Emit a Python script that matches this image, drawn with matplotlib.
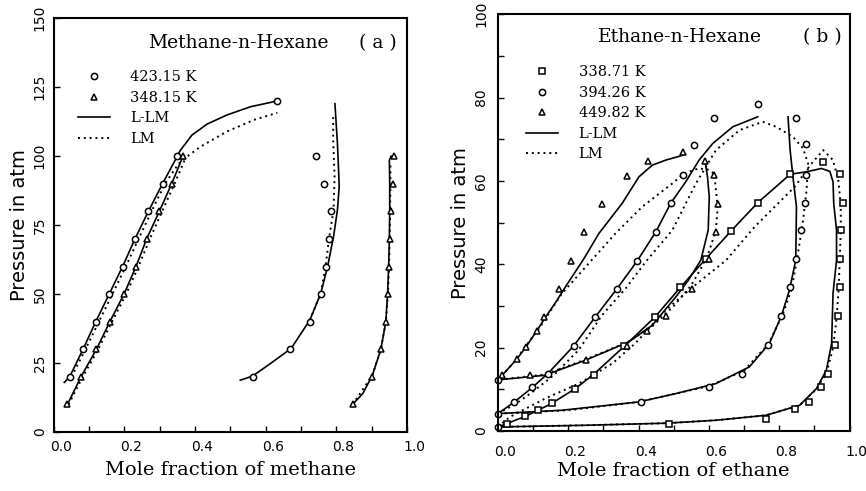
import numpy as np
import matplotlib.pyplot as plt
from matplotlib.lines import Line2D
from matplotlib.transforms import ScaledTranslation

# ---- (a) methane - n-hexane ----
# 423.15 K data (liquid / vapour side)
a423_liq_x = [0.045, 0.083, 0.119, 0.157, 0.195, 0.230, 0.268, 0.308, 0.350, 0.633]
a423_liq_p = [20, 30, 40, 50, 60, 70, 80, 90, 100, 120]
a423_vap_x = [0.563, 0.670, 0.725, 0.756, 0.770, 0.780, 0.784, 0.765, 0.741]
a423_vap_p = [20, 30, 40, 50, 60, 70, 80, 90, 100]
# 348.15 K data
a348_liq_x = [0.039, 0.077, 0.121, 0.159, 0.199, 0.233, 0.263, 0.299, 0.334, 0.366]
a348_liq_p = [10, 20, 30, 40, 50, 60, 70, 80, 90, 100]
a348_vap_x = [0.846, 0.902, 0.926, 0.940, 0.945, 0.948, 0.953, 0.956, 0.960, 0.964]
a348_vap_p = [10, 20, 30, 40, 50, 60, 70, 80, 90, 100]

# L-LM curves
a423_liq_llm_x = [0.030, 0.045, 0.083, 0.119, 0.157, 0.195, 0.230, 0.268, 0.308, 0.350, 0.358, 0.391, 0.434, 0.490, 0.557, 0.633]
a423_liq_llm_p = [18, 20, 30, 40, 50, 60, 70, 80, 90, 100, 102, 107.6, 111.6, 114.9, 117.9, 120]
a423_vap_llm_x = [0.528, 0.563, 0.614, 0.672, 0.725, 0.756, 0.775, 0.792, 0.803, 0.808, 0.806, 0.803, 0.796]
a423_vap_llm_p = [18.8, 20.3, 24.9, 30.3, 40.6, 50.3, 59.9, 70.8, 80.4, 88.9, 96, 104.6, 119]
a348_liq_llm_x = [0.039, 0.077, 0.121, 0.159, 0.199, 0.233, 0.263, 0.299, 0.334, 0.366]
a348_liq_llm_p = [10, 20, 30, 40, 50, 60, 70, 80, 90, 100]
a348_vap_llm_x = [0.846, 0.875, 0.902, 0.926, 0.940, 0.945, 0.948, 0.950, 0.951, 0.951, 0.950, 0.955, 0.964]
a348_vap_llm_p = [10, 14, 20.6, 30, 40, 50, 60, 70, 80, 90, 98.5, 100, 100]
# LM curves
a423_liq_lm_x = [0.050, 0.090, 0.128, 0.166, 0.204, 0.240, 0.277, 0.315, 0.352, 0.364, 0.415, 0.490, 0.566, 0.633]
a423_liq_lm_p = [20, 30, 40, 50, 60, 70, 80, 90, 97, 98.6, 103.4, 108.9, 113.1, 115.7]
a348_liq_lm_x = [0.042, 0.082, 0.126, 0.165, 0.205, 0.240, 0.272, 0.307, 0.342, 0.372]
a348_liq_lm_p = [10, 20, 30, 40, 50, 60, 70, 80, 90, 99]
a423_vap_lm_x = [0.725, 0.756, 0.770, 0.779, 0.792, 0.795, 0.791, 0.791]
a423_vap_lm_p = [40.6, 50.3, 60.5, 70, 80.4, 92.5, 105.8, 115]
a348_vap_lm_x = [0.846, 0.902, 0.926, 0.940, 0.946, 0.949, 0.951, 0.952, 0.953, 0.953]
a348_vap_lm_p = [10, 20.6, 30, 40, 50, 60, 70, 80, 90, 98]

# ---- (b) ethane - n-hexane ----
b338_bub_x = [0.025, 0.077, 0.115, 0.153, 0.220, 0.272, 0.358, 0.447, 0.517, 0.591, 0.663, 0.739, 0.831, 0.925]
b338_bub_p = [1.8, 3.6, 5.0, 6.8, 10.2, 13.4, 20.4, 27.4, 34.5, 41.2, 48.0, 54.8, 61.6, 64.6]
b338_dew_x = [0.487, 0.761, 0.844, 0.885, 0.920, 0.939, 0.958, 0.968, 0.972, 0.972, 0.977, 0.980, 0.974]
b338_dew_p = [1.8, 3.0, 5.4, 7.0, 10.6, 13.8, 20.6, 27.6, 34.5, 41.2, 48.2, 54.8, 61.6]
b394_bub_x = [0.047, 0.098, 0.142, 0.215, 0.277, 0.339, 0.396, 0.449, 0.491, 0.525, 0.558, 0.615, 0.739]
b394_bub_p = [7.0, 10.5, 13.8, 20.4, 27.4, 34.2, 40.8, 47.8, 54.6, 61.4, 68.6, 75.2, 78.4]
b394_dew_x = [0.407, 0.601, 0.694, 0.768, 0.806, 0.831, 0.847, 0.863, 0.872, 0.877, 0.875, 0.847]
b394_dew_p = [7.0, 10.6, 13.8, 20.6, 27.6, 34.5, 41.2, 48.2, 54.8, 61.4, 68.8, 75.2]
b449_bub_x = [0.012, 0.053, 0.079, 0.110, 0.132, 0.174, 0.209, 0.244, 0.296, 0.368, 0.428, 0.527]
b449_bub_p = [13.4, 17.2, 20.1, 24.0, 27.3, 34.0, 40.8, 47.8, 54.4, 61.2, 64.8, 67.0]
b449_dew_x = [0.091, 0.250, 0.368, 0.425, 0.477, 0.553, 0.599, 0.620, 0.625, 0.615, 0.589]
b449_dew_p = [13.4, 17.0, 20.4, 24.0, 27.6, 34.0, 41.2, 47.8, 54.4, 61.4, 64.8]
b_pure_x = [0.0, 0.0, 0.0]
b_pure_p = [1.0, 4.2, 12.3]

# L-LM curves
b338_llm_x = [0.0, 0.025, 0.077, 0.150, 0.220, 0.272, 0.360, 0.447, 0.517, 0.591, 0.663, 0.739, 0.831, 0.877, 0.920,
              0.944, 0.953, 0.955, 0.963, 0.963, 0.953, 0.949, 0.934, 0.906, 0.858, 0.763, 0.620, 0.480, 0.250, 0.0]
b338_llm_p = [1.0, 1.8, 3.5, 6.5, 10.2, 13.6, 20.4, 27.4, 34.3, 41.3, 48.0, 54.8, 61.6, 62.2, 63.0,
              62.3, 59.8, 54.6, 48.2, 41.0, 33.0, 21.0, 14.6, 10.2, 6.2, 3.8, 2.6, 1.9, 1.4, 1.0]
b394_bub_llm_x = [0.0, 0.047, 0.098, 0.142, 0.215, 0.277, 0.339, 0.396, 0.449, 0.491, 0.534, 0.572, 0.611, 0.668, 0.739]
b394_bub_llm_p = [4.2, 7.0, 10.5, 13.8, 20.4, 27.4, 34.2, 40.8, 47.8, 54.6, 59.8, 65.0, 69.0, 73.0, 75.4]
b394_dew_llm_x = [0.0, 0.182, 0.401, 0.506, 0.620, 0.715, 0.772, 0.806, 0.829, 0.847, 0.849, 0.839, 0.831, 0.825]
b394_dew_llm_p = [4.2, 5.0, 7.0, 9.0, 11.4, 15.4, 21.0, 27.6, 33.8, 41.0, 53.8, 61.0, 67.4, 75.4]
b449_bub_llm_x = [0.0, 0.012, 0.053, 0.079, 0.110, 0.135, 0.165, 0.195, 0.244, 0.287, 0.353, 0.401, 0.439, 0.477, 0.527]
b449_bub_llm_p = [12.2, 13.4, 17.2, 20.1, 24.0, 27.3, 31.0, 35.0, 41.3, 47.4, 54.6, 61.0, 63.8, 65.0, 66.2]
b449_dew_llm_x = [0.0, 0.050, 0.134, 0.249, 0.372, 0.439, 0.506, 0.540, 0.577, 0.598, 0.601, 0.596, 0.589]
b449_dew_llm_p = [12.3, 12.7, 13.4, 17.0, 21.4, 25.4, 32.2, 36.0, 41.0, 48.2, 56.2, 61.0, 64.8]
# LM curves
b338_lm_x = [0.0, 0.034, 0.134, 0.230, 0.325, 0.390, 0.477, 0.553, 0.649, 0.730, 0.844, 0.890, 0.925,
             0.953, 0.968, 0.975, 0.975, 0.972, 0.969, 0.963, 0.953, 0.935, 0.905, 0.858, 0.763, 0.620, 0.480, 0.250, 0.0]
b338_lm_p = [1.0, 3.4, 7.8, 11.4, 16.2, 21.0, 29.0, 34.5, 41.0, 49.0, 58.6, 64.0, 67.4,
             65.0, 60.2, 54.0, 48.0, 41.0, 34.0, 27.0, 20.0, 14.0, 10.0, 6.2, 3.8, 2.6, 1.9, 1.4, 1.0]
b394_lm_x = [0.0, 0.050, 0.100, 0.160, 0.230, 0.296, 0.363, 0.420, 0.496, 0.563, 0.620, 0.687, 0.753,
             0.791, 0.839, 0.868, 0.882, 0.878, 0.867, 0.852, 0.835, 0.810, 0.770, 0.700, 0.600, 0.400, 0.200, 0.0]
b394_lm_p = [4.2, 6.5, 9.5, 13.5, 19.5, 27.8, 34.2, 40.6, 48.2, 59.4, 67.4, 72.2, 74.2,
             73.0, 70.6, 67.8, 64.2, 58.0, 50.0, 42.0, 34.0, 28.0, 21.0, 14.5, 10.8, 7.0, 5.0, 4.2]
b449_lm_x = [0.0, 0.050, 0.080, 0.120, 0.182, 0.258, 0.334, 0.410, 0.496, 0.529, 0.570, 0.595, 0.615,
             0.625, 0.620, 0.600, 0.577, 0.550, 0.500, 0.440, 0.370, 0.250, 0.134, 0.0]
b449_lm_p = [12.2, 17.0, 20.5, 25.0, 33.0, 40.2, 47.4, 53.8, 59.4, 61.8, 63.0, 62.8, 61.8,
             53.8, 48.2, 43.0, 39.0, 35.0, 30.0, 25.2, 21.4, 17.2, 13.6, 12.3]

fig = plt.figure(figsize=(8.66, 4.91), dpi=100)
axa = fig.add_axes([0.062, 0.120, 0.408, 0.843])
axb = fig.add_axes([0.575, 0.122, 0.406, 0.849])

solid = dict(color='black', lw=1.2)
dotted = dict(color='black', lw=1.4, ls=(0, (1, 2)))
circ = dict(ls='none', marker='o', ms=4.5, mfc='white', mec='black', mew=1.1, clip_on=False)
squ = dict(ls='none', marker='s', ms=4.5, mfc='white', mec='black', mew=1.1, clip_on=False)
tri = dict(ls='none', marker='^', ms=4.5, mfc='white', mec='black', mew=1.1, clip_on=False)

# panel (a)
axa.plot(a423_liq_llm_x, a423_liq_llm_p, **solid)
axa.plot(a423_vap_llm_x, a423_vap_llm_p, **solid)
axa.plot(a348_liq_llm_x, a348_liq_llm_p, **solid)
axa.plot(a348_vap_llm_x, a348_vap_llm_p, **solid)
axa.plot(a423_liq_lm_x, a423_liq_lm_p, **dotted)
axa.plot(a348_liq_lm_x, a348_liq_lm_p, **dotted)
axa.plot(a423_vap_lm_x, a423_vap_lm_p, **dotted)
axa.plot(a348_vap_lm_x, a348_vap_lm_p, **dotted)
axa.plot(a423_liq_x, a423_liq_p, **circ)
axa.plot(a423_vap_x, a423_vap_p, **circ)
axa.plot(a348_liq_x, a348_liq_p, **tri)
axa.plot(a348_vap_x, a348_vap_p, **tri)

# panel (b)
axb.plot(b338_llm_x, b338_llm_p, **solid)
axb.plot(b394_bub_llm_x, b394_bub_llm_p, **solid)
axb.plot(b394_dew_llm_x, b394_dew_llm_p, **solid)
axb.plot(b449_bub_llm_x, b449_bub_llm_p, **solid)
axb.plot(b449_dew_llm_x, b449_dew_llm_p, **solid)
axb.plot(b338_lm_x, b338_lm_p, **dotted)
axb.plot(b394_lm_x, b394_lm_p, **dotted)
axb.plot(b449_lm_x, b449_lm_p, **dotted)
axb.plot(b338_bub_x, b338_bub_p, **squ)
axb.plot(b338_dew_x, b338_dew_p, **squ)
axb.plot(b394_bub_x, b394_bub_p, **circ)
axb.plot(b394_dew_x, b394_dew_p, **circ)
axb.plot(b449_bub_x, b449_bub_p, **tri)
axb.plot(b449_dew_x, b449_dew_p, **tri)
axb.plot(b_pure_x, b_pure_p, **circ)

serif = 'DejaVu Serif'
shift = ScaledTranslation(0.07, 0, fig.dpi_scale_trans)

for ax, ymax, ystep, ypad, xpad in [(axa, 150, 25, 5, 6), (axb, 100, 20, 7, 10)]:
    ax.set_xlim(0, 1)
    ax.set_ylim(0, ymax)
    ax.set_xticks(np.arange(0, 1.01, 0.2))
    ax.set_xticks(np.arange(0, 1.01, 0.1), minor=True)
    ax.set_yticks(np.arange(0, ymax + 1, ystep))
    ax.set_xticklabels(['0.0', '0.2', '0.4', '0.6', '0.8', '1.0'])
    ax.tick_params(which='both', direction='in', length=4, width=1.0, labelsize=10)
    ax.tick_params(axis='y', pad=ypad)
    ax.tick_params(axis='x', pad=xpad)
    for lab in ax.get_yticklabels():
        lab.set_rotation(90)
        lab.set_va('center')
    for lab in ax.get_xticklabels():
        lab.set_transform(lab.get_transform() + shift)
    for sp in ax.spines.values():
        sp.set_linewidth(1.5)
    ax.set_ylabel('Pressure in atm', fontsize=14, labelpad=3)
axb.set_yticks(np.arange(0, 101, 10), minor=True)

axa.set_xlabel('Mole fraction of methane', fontsize=14, family=serif, labelpad=5)
axb.set_xlabel('Mole fraction of ethane', fontsize=14, family=serif, labelpad=2)

axa.text(0.523, 0.94, 'Methane-n-Hexane', transform=axa.transAxes, ha='center', va='center',
         fontsize=13.5, family=serif)
axa.text(0.918, 0.94, '( a )', transform=axa.transAxes, ha='center', va='center',
         fontsize=13.5, family=serif)
axb.text(0.517, 0.945, 'Ethane-n-Hexane', transform=axb.transAxes, ha='center', va='center',
         fontsize=13.5, family=serif)
axb.text(0.923, 0.945, '( b )', transform=axb.transAxes, ha='center', va='center',
         fontsize=13.5, family=serif)

mk = dict(ls='none', ms=4.5, mfc='white', mec='black', mew=1.1)
hand_a = [Line2D([], [], marker='o', **mk), Line2D([], [], marker='^', **mk),
          Line2D([], [], **solid), Line2D([], [], **dotted)]
lab_a = ['423.15 K', '348.15 K', 'L-LM', 'LM']
hand_b = [Line2D([], [], marker='s', **mk), Line2D([], [], marker='o', **mk), Line2D([], [], marker='^', **mk),
          Line2D([], [], **solid), Line2D([], [], **dotted)]
lab_b = ['338.71 K', '394.26 K', '449.82 K', 'L-LM', 'LM']

for ax, hs, ls, anchor in [(axa, hand_a, lab_a, (0.068, 0.874)), (axb, hand_b, lab_b, (0.08, 0.878))]:
    ax.legend(hs, ls, loc='upper left', bbox_to_anchor=anchor, frameon=False, borderpad=0,
              borderaxespad=0, handlelength=2.2, handletextpad=1.4, labelspacing=0.45,
              prop={'family': serif, 'size': 10.5})

fig.savefig('out.png', dpi=100)
